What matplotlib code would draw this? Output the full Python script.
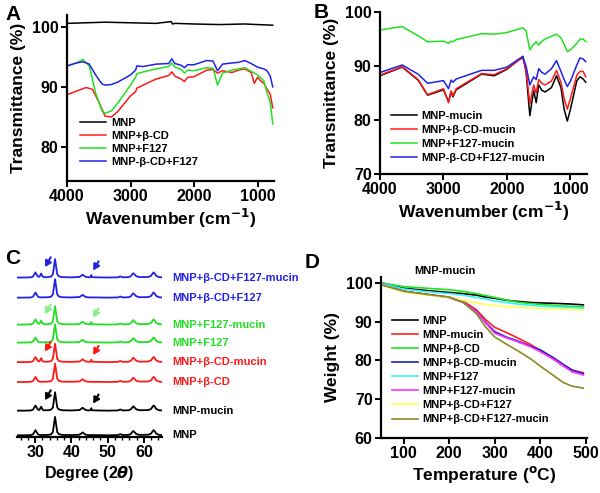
import matplotlib.pyplot as plt
import numpy as np
from matplotlib.ticker import MultipleLocator

plt.rcParams['font.family'] = ['Liberation Sans', 'DejaVu Sans']
plt.rcParams['font.weight'] = 'bold'
plt.rcParams['axes.labelweight'] = 'bold'

# ---------------- data: panel A (FTIR) ----------------
a_mnp_x = [4000, 3700, 3400, 3000, 2600, 2360, 2340, 2300, 2000, 1600, 1200, 1000, 760]
a_mnp_y = [100.6, 100.7, 100.8, 100.7, 100.6, 100.9, 100.5, 100.6, 100.5, 100.4, 100.5, 100.4, 100.3]

a_bcd_x = [4000, 3850, 3700, 3600, 3500, 3400, 3300, 3200, 3000, 2920, 2900, 2800, 2600, 2400, 2350, 2300,
           2200, 2150, 2100, 2000, 1800, 1700, 1630, 1550, 1400, 1300, 1200, 1100, 1050, 1000, 950, 900, 850, 800, 760]
a_bcd_y = [88.7, 89.3, 89.9, 89.6, 87.5, 85.1, 85.0, 85.9, 88.5, 89.2, 89.8, 90.3, 91.3, 91.9, 92.5, 91.8,
           91.3, 90.9, 91.6, 91.7, 92.8, 92.9, 92.3, 92.7, 92.4, 92.8, 93.0, 92.4, 90.6, 91.6, 91.0, 90.6, 89.6, 88.8, 86.5]

a_f127_x = [4000, 3850, 3750, 3650, 3550, 3450, 3400, 3300, 3200, 3000, 2920, 2900, 2800, 2600, 2400, 2350, 2300,
            2200, 2150, 2100, 2000, 1800, 1700, 1630, 1550, 1400, 1300, 1200, 1100, 1000, 900, 850, 800, 760]
a_f127_y = [93.5, 94.0, 94.6, 93.5, 89.0, 86.0, 85.6, 86.0, 87.3, 90.3, 91.6, 92.2, 92.5, 93.0, 93.4, 94.0, 93.3,
            92.9, 92.3, 92.8, 92.7, 93.2, 93.1, 90.3, 92.3, 92.8, 93.0, 93.2, 92.6, 92.0, 91.0, 89.0, 87.5, 83.8]

a_both_x = [4000, 3850, 3750, 3650, 3550, 3450, 3400, 3300, 3200, 3000, 2920, 2900, 2800, 2600, 2400, 2350, 2300,
            2200, 2150, 2100, 2000, 1800, 1700, 1630, 1550, 1400, 1300, 1200, 1100, 1000, 900, 850, 800, 760]
a_both_y = [93.5, 94.0, 94.2, 93.8, 92.0, 90.5, 90.3, 90.4, 90.8, 92.0, 92.8, 93.5, 93.4, 93.8, 93.9, 94.7, 93.9,
            93.6, 93.2, 93.7, 93.7, 94.4, 94.3, 92.7, 93.8, 94.0, 94.1, 94.4, 93.9, 93.3, 93.0, 92.7, 91.8, 90.0]

# ---------------- data: panel B (FTIR with mucin) ----------------
b_x = [4000, 3650, 3400, 3250, 3000, 2920, 2880, 2850, 2800, 2400, 2200, 2000, 1800, 1750, 1700,
       1640, 1580, 1540, 1500, 1450, 1400, 1300, 1220, 1150, 1100, 1050, 1000, 900, 850, 800, 760]
b_mnp_y = [88.2, 89.8, 87.4, 84.6, 85.6, 83.4, 85.2, 84.3, 85.6, 88.5, 88.2, 89.4, 91.3, 91.8, 89.0,
           80.8, 85.5, 83.2, 86.5, 85.5, 85.2, 86.0, 88.2, 86.0, 82.0, 79.8, 82.0, 87.3, 88.0, 87.6, 87.0]
b_bcd_y = [88.3, 89.9, 87.5, 84.7, 85.8, 83.2, 85.4, 84.5, 85.8, 88.6, 88.4, 89.5, 91.2, 91.5, 89.2,
           83.0, 86.5, 85.0, 87.5, 86.8, 86.5, 87.2, 89.2, 87.0, 84.0, 82.0, 84.0, 88.3, 89.0, 89.0, 88.0]
b_f127_y = [96.7, 97.3, 95.6, 94.5, 94.6, 94.2, 94.6, 94.5, 94.9, 96.0, 95.9, 96.2, 96.9, 97.1, 96.5,
            93.0, 94.0, 94.5, 93.9, 94.6, 95.0, 95.5, 95.9, 95.2, 94.0, 92.7, 93.0, 94.2, 95.0, 95.0, 94.5]
b_both_y = [88.8, 90.2, 88.5, 86.8, 87.3, 85.8, 87.4, 87.0, 87.6, 89.2, 89.2, 89.8, 91.4, 91.7, 90.0,
            86.5, 88.0, 87.5, 89.5, 88.8, 88.5, 89.5, 91.0, 89.0, 87.5, 86.2, 87.2, 90.2, 91.5, 91.3, 90.8]

# ---------------- data: panel C (XRD) ----------------
two_theta = [25, 27, 28.8, 29.4, 29.8, 30.1, 30.4, 30.8, 31.2, 31.5,
             31.7, 31.9, 32.3, 33.5, 34.4, 34.9, 35.2, 35.5, 35.8, 36.1,
             36.6, 37.5, 40, 42.2, 42.7, 43.1, 43.5, 44.0, 45.0, 45.3,
             45.5, 45.7, 47, 50, 52.8, 53.5, 54.2, 55.8, 56.4, 56.8,
             57.1, 57.4, 57.9, 58.8, 61.2, 62.0, 62.4, 62.7, 63.0, 63.4,
             64.2, 65]
xrd_mnp = [3, 3, 4, 8, 20, 30, 20, 8, 5, 4.5,
           4.5, 4.5, 4.5, 5, 8, 20, 60, 100, 60, 20,
           9, 5, 4, 6, 12, 18, 12, 6, 4, 4,
           4, 4, 4, 3, 4, 9, 4, 5, 10, 20,
           26, 20, 10, 5, 6, 12, 24, 30, 24, 12,
           5, 4]
xrd_mucin = [3, 3, 4, 8, 20, 30, 20, 8, 7, 18,
             24, 13, 5, 5, 8, 20, 60, 100, 60, 20,
             9, 5, 4, 6, 12, 18, 12, 6, 4, 6,
             16, 5, 4, 3, 4, 9, 4, 5, 10, 20,
             26, 20, 10, 5, 6, 12, 24, 30, 24, 12,
             5, 4]
xrd_names = ["MNP", "MNP-mucin", "MNP+\u03b2-CD", "MNP+\u03b2-CD-mucin",
             "MNP+F127", "MNP+F127-mucin", "MNP+\u03b2-CD+F127", "MNP+\u03b2-CD+F127-mucin"]
xrd_colors = ["black", "black", "#ff1a1a", "#ff1a1a", "#22e022", "#22e022", "#2222e6", "#2222e6"]
xrd_offsets = [6, 136, 287, 392, 495, 590, 732, 838]

# ---------------- data: panel D (TGA) ----------------
temp = [50, 100, 150, 200, 230, 260, 280, 300, 325, 350, 380, 400, 430, 450, 470, 495]
tga = {
    "MNP": [100, 98.6, 98.0, 97.5, 97.2, 96.8, 96.3, 96.0, 95.5, 95.2, 94.9, 94.8, 94.7, 94.6, 94.5, 94.3],
    "MNP-mucin": [100, 97.8, 97.0, 96.3, 95.3, 93.0, 90.5, 88.5, 87.2, 85.8, 84.0, 82.5, 80.2, 78.6, 77.4, 76.8],
    "MNP+\u03b2-CD": [100, 99.0, 98.6, 98.2, 97.8, 97.2, 96.7, 96.2, 95.6, 95.0, 94.6, 94.4, 94.2, 94.0, 93.9, 93.8],
    "MNP+\u03b2-CD-mucin": [99.8, 97.8, 97.0, 96.2, 95.0, 92.6, 89.8, 87.4, 86.0, 85.0, 83.6, 82.7, 80.6, 79.0, 77.5, 76.5],
    "MNP+F127": [99.8, 98.4, 97.7, 97.2, 96.8, 96.2, 95.8, 95.3, 94.9, 94.5, 94.2, 94.0, 93.8, 93.7, 93.6, 93.4],
    "MNP+F127-mucin": [99.6, 97.8, 97.0, 96.2, 95.0, 92.5, 89.6, 87.0, 85.8, 84.8, 83.4, 82.2, 80.2, 78.6, 77.0, 76.2],
    "MNP+\u03b2-CD+F127": [99.5, 97.6, 96.8, 96.2, 95.5, 94.8, 94.4, 94.1, 93.9, 93.7, 93.5, 93.4, 93.3, 93.2, 93.1, 93.0],
    "MNP+\u03b2-CD+F127-mucin": [99.5, 97.8, 97.0, 96.3, 95.0, 92.0, 88.6, 86.0, 84.2, 82.5, 80.3, 78.5, 76.0, 74.3, 73.3, 72.8],
}
tga_colors = ["black", "#ff2020", "#22e022", "#2020c0", "#33f5f5", "#ff33ff", "#ffff55", "#8a8a22"]

# ---------------- figure ----------------
fig = plt.figure(figsize=(6, 4.93), dpi=100)
tick_fs = 11.5
lab_fs = 12.5
leg_fs = 8


def style_axes(ax):
    ax.spines['top'].set_visible(False)
    ax.spines['right'].set_visible(False)
    ax.spines['left'].set_linewidth(1.6)
    ax.spines['bottom'].set_linewidth(1.6)
    ax.tick_params(direction='out', width=1.4, length=4, labelsize=tick_fs, pad=2)
    for lab in ax.get_xticklabels() + ax.get_yticklabels():
        lab.set_fontweight('bold')


leg_kw = dict(frameon=False, fontsize=leg_fs, handlelength=2.4, handletextpad=0.4, borderaxespad=0,
              loc='lower left')

# Panel A
axA = fig.add_axes([0.1117, 0.6329, 0.345, 0.3367])
axA.plot(a_mnp_x, a_mnp_y, color='black', lw=1.1, label='MNP')
axA.plot(a_bcd_x, a_bcd_y, color='#ff1a1a', lw=1.1, label='MNP+\u03b2-CD')
axA.plot(a_f127_x, a_f127_y, color='#22e022', lw=1.1, label='MNP+F127')
axA.plot(a_both_x, a_both_y, color='#2222e6', lw=1.1, label='MNP-\u03b2-CD+F127')
axA.set_xlim(4000, 740)
axA.set_ylim(74.3, 102)
axA.set_xticks([4000, 3000, 2000, 1000])
axA.set_yticks([80, 90, 100])
axA.set_xlabel('Wavenumber (cm$^{\\mathbf{-1}}$)', fontsize=lab_fs, labelpad=2)
axA.set_ylabel('Transmittance (%)', fontsize=lab_fs, labelpad=4)
style_axes(axA)
axA.legend(bbox_to_anchor=(0.04, 0.06), labelspacing=0.25, **leg_kw)

# Panel B
axB = fig.add_axes([0.6333, 0.647, 0.345, 0.3286])
axB.plot(b_x, b_mnp_y, color='black', lw=1.1, label='MNP-mucin')
axB.plot(b_x, b_bcd_y, color='#ff1a1a', lw=1.1, label='MNP+\u03b2-CD-mucin')
axB.plot(b_x, b_f127_y, color='#22e022', lw=1.1, label='MNP+F127-mucin')
axB.plot(b_x, b_both_y, color='#2222e6', lw=1.1, label='MNP-\u03b2-CD+F127-mucin')
axB.set_xlim(4000, 740)
axB.set_ylim(70, 100)
axB.set_xticks([4000, 3000, 2000, 1000])
axB.set_yticks([70, 80, 90, 100])
axB.set_xlabel('Wavenumber (cm$^{\\mathbf{-1}}$)', fontsize=lab_fs, labelpad=2)
axB.set_ylabel('Transmittance (%)', fontsize=lab_fs, labelpad=4)
style_axes(axB)
axB.legend(bbox_to_anchor=(0.03, 0.04), labelspacing=0.37, **leg_kw)

# Panel C
axC = fig.add_axes([0.0283, 0.1136, 0.2417, 0.375])
arrow_kw = dict(arrowstyle='-|>,head_length=0.5,head_width=0.28', lw=1.5, mutation_scale=7,
                shrinkA=0, shrinkB=0)
for i, name in enumerate(xrd_names):
    pattern = xrd_mucin if 'mucin' in name else xrd_mnp
    off = xrd_offsets[i]
    axC.plot(two_theta, np.array(pattern) + off, color=xrd_colors[i], lw=1.3)
    axC.text(1.07, off + 3, name, transform=axC.get_yaxis_transform(), color=xrd_colors[i],
             fontsize=leg_fs, fontweight='bold', va='center', ha='left')
    if 'mucin' in name:
        arrow_col = '#88ee88' if xrd_colors[i] == '#22e022' else xrd_colors[i]
        axC.annotate('', xy=(32.7, off + 58), xytext=(34.3, off + 110),
                     arrowprops=dict(color=arrow_col, **arrow_kw))
        axC.annotate('', xy=(46.0, off + 40), xytext=(47.5, off + 88),
                     arrowprops=dict(color=arrow_col, **arrow_kw))
axC.set_xlim(25, 65)
axC.set_ylim(0, 975)
axC.set_yticks([])
axC.set_xticks([30, 40, 50, 60])
axC.xaxis.set_minor_locator(MultipleLocator(2))
axC.set_xlabel('Degree (2$\\mathit{\\theta}$)', fontsize=lab_fs - 1, labelpad=3)
style_axes(axC)
axC.spines['left'].set_visible(False)
axC.tick_params(axis='x', which='minor', direction='out', length=2.5, width=1.0)

# Panel D
axD = fig.add_axes([0.635, 0.1122, 0.3433, 0.326])
for (name, vals), col in zip(tga.items(), tga_colors):
    axD.plot(temp, vals, color=col, lw=1.2, label=name)
axD.set_xlim(50, 503)
axD.set_ylim(60, 101.5)
axD.set_xticks([100, 200, 300, 400, 500])
axD.set_yticks([60, 70, 80, 90, 100])
axD.set_xlabel('Temperature ($^{\\mathbf{o}}$C)', fontsize=lab_fs, labelpad=2)
axD.set_ylabel('Weight (%)', fontsize=lab_fs, labelpad=4)
style_axes(axD)
axD.legend(bbox_to_anchor=(0.03, 0.055), labelspacing=0.37, **leg_kw)
fig.text(445 / 600, 1 - 271 / 493, 'MNP-mucin', fontsize=leg_fs, fontweight='bold', ha='center', va='center')

# panel letters
for letter, (px, py) in zip('ABCD', [(13, 15), (321, 12), (13, 258), (312, 262)]):
    fig.text(px / 600, 1 - py / 493, letter, fontsize=15, fontweight='bold', ha='center', va='center')

fig.savefig('out.png', dpi=100)
